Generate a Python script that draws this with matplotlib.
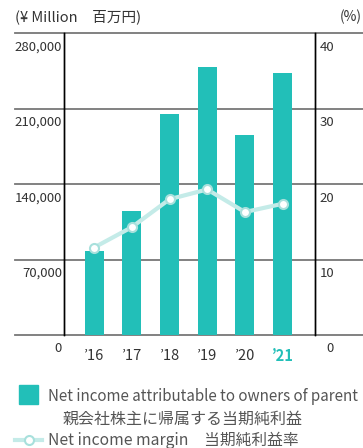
import matplotlib
matplotlib.use('Agg')
import matplotlib.pyplot as plt
import matplotlib.transforms as mtransforms
from matplotlib.lines import Line2D
from matplotlib.patches import Rectangle

plt.rcParams['font.family'] = ['Noto Sans CJK JP', 'DejaVu Sans']

years = ['’16', '’17', '’18', '’19', '’20', '’21']
net_income = [78200, 115000, 205000, 248500, 185400, 243000]   # ¥ million
margin = [11.6, 14.3, 18.0, 19.3, 16.3, 17.4]                   # %
left_ticks = [0, 70000, 140000, 210000, 280000]
right_ticks = [0, 10, 20, 30, 40]

BAR = '#22bfb8'
LINE = '#c4ebe8'
TXT = '#333333'
GRID = '#777777'
LEG = '#555555'

W, H = 363, 448
fig = plt.figure(figsize=(W / 100, H / 100), dpi=100)
ax = fig.add_axes([64 / W, 1 - 335 / H, (315 - 64) / W, (335 - 33.3) / H])
ax2 = ax.twinx()

x = list(range(len(years)))
ax.bar(x, net_income, width=0.5, color=BAR, zorder=2)
ax.set_xlim(-0.8, 5.86)
ax.set_ylim(0, 280000)
ax2.set_ylim(0, 40)

ax2.plot(x, margin, color=LINE, lw=3, marker='o', ms=6.5,
         mfc='white', mec='#a8e0dc', mew=1.5, zorder=3)

for a in (ax, ax2):
    a.set_xticks([])
    a.set_yticks([])
    for s in ('top', 'bottom'):
        a.spines[s].set_visible(False)
    a.spines['left'].set_linewidth(1)
    a.spines['right'].set_linewidth(1)

# horizontal rules run past the frame on both sides
for v in left_ticks:
    ax.axhline(v, xmin=(15 - 64) / 251, xmax=(363 - 64) / 251,
               color=GRID, lw=1.3, clip_on=False, zorder=1)

# tick labels sit just under each rule
tl = mtransforms.blended_transform_factory(ax.transAxes, ax.transData)
for v in left_ticks:
    ax.annotate(f'{v:,}', xy=(-2 / 251, v), xycoords=tl, xytext=(0, -10),
                textcoords='offset points', ha='right', va='center',
                fontsize=9.5, color=TXT)
tr = mtransforms.blended_transform_factory(ax2.transAxes, ax2.transData)
for v in right_ticks:
    ax2.annotate(f'{v}', xy=(1 + 19 / 251, v), xycoords=tr, xytext=(0, -10),
                 textcoords='offset points', ha='right', va='center',
                 fontsize=9.5, color=TXT)

tx = mtransforms.blended_transform_factory(ax.transData, ax.transAxes)
for i, lab in enumerate(years):
    last = i == len(years) - 1
    ax.text(i, -0.07, lab, transform=tx, ha='center', va='center',
            fontsize=10.5, color=BAR if last else TXT,
            fontweight='bold' if last else 'normal')

fig.text(15 / W, 1 - 17 / H, '(¥ Million　百万円)', ha='left', va='center',
         fontsize=10.5, color=TXT)
fig.text(362 / W, 1 - 17 / H, '(%)', ha='right', va='center',
         fontsize=10, color=TXT)

# legend
fig.patches.append(Rectangle((19 / W, 1 - 404 / H), 19 / W, 19 / H,
                             transform=fig.transFigure, color=BAR))
fig.text(48 / W, 1 - 396 / H, 'Net income attributable to owners of parent',
         ha='left', va='center', fontsize=10.9, color=LEG)
fig.text(63 / W, 1 - 419 / H, '親会社株主に帰属する当期純利益',
         ha='left', va='center', fontsize=11.5, color=LEG)
fig.lines.append(Line2D([15 / W, 42 / W], [1 - 440 / H, 1 - 440 / H],
                        transform=fig.transFigure, color=LINE, lw=3))
fig.lines.append(Line2D([28.5 / W], [1 - 440 / H], transform=fig.transFigure,
                        marker='o', ms=6.5, mfc='white', mec='#a8e0dc', mew=1.5))
fig.text(48 / W, 1 - 440 / H, 'Net income margin　当期純利益率',
         ha='left', va='center', fontsize=11.3, color=LEG)

fig.savefig('out.png', dpi=100)
